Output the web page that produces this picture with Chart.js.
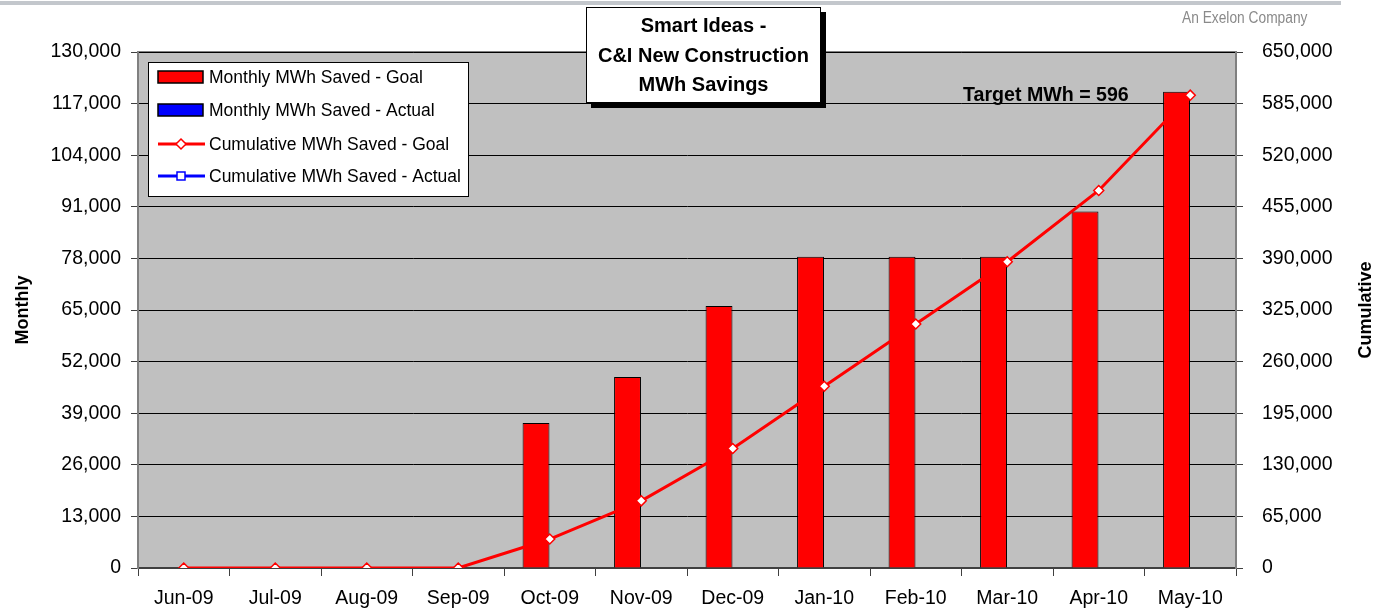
<!DOCTYPE html>
<html>
<head>
<meta charset="utf-8">
<script src="https://cdn.jsdelivr.net/npm/chart.js@4/dist/chart.umd.min.js"></script>
<style>
  html, body { margin: 0; padding: 0; background: #fff; }
  #wrap { position: relative; width: 1387px; height: 609px; overflow: hidden; font-family: "Liberation Sans", Arial, sans-serif; }
  #topline { position: absolute; left: 0; top: 1px; width: 1341px; height: 4px; background: #c3c7cc; }
  #brand { position: absolute; left: 1182px; top: 9px; font-size: 16px; color: #8a8a8a; transform: scaleX(0.86); transform-origin: left top; white-space: nowrap; }
  #titleBox { position: absolute; left: 586px; top: 7px; width: 235px; height: 96px; background: #fff; border: 1px solid #000; box-shadow: 5px 5px 0 #000; text-align: center; font-weight: bold; font-size: 20px; line-height: 29.5px; padding-top: 3px; box-sizing: border-box; white-space: nowrap; }
  #target { position: absolute; left: 963px; top: 83px; font-weight: bold; font-size: 20px; transform: scaleX(0.98); transform-origin: left top; white-space: nowrap; }
  canvas { position: absolute; left: 0; top: 0; }
</style>
</head>
<body>
<div id="wrap">
  <div id="topline"></div>
  <canvas id="chart" width="1387" height="609"></canvas>
  <div id="titleBox">Smart Ideas -<br>C&amp;I New Construction<br>MWh Savings</div>
  <div id="target">Target MWh = 596</div>
  <div id="brand">An Exelon Company</div>
</div>
<script>
/* =======================
   DATA
======================= */
const months = ["Jun-09", "Jul-09", "Aug-09", "Sep-09", "Oct-09", "Nov-09",
                "Dec-09", "Jan-10", "Feb-10", "Mar-10", "Apr-10", "May-10"];
const monthlyGoal = [0, 0, 0, 0, 36500, 48100, 66000, 78400, 78400, 78400, 89800, 120000];
const monthlyActual = [null, null, null, null, null, null, null, null, null, null, null, null];
const cumulativeGoal = [0, 0, 0, 0, 36500, 84600, 150600, 229000, 307400, 385800, 475600, 595600];
const cumulativeActual = [null, null, null, null, null, null, null, null, null, null, null, null];
const seriesNames = ["Monthly MWh Saved - Goal", "Monthly MWh Saved - Actual",
                     "Cumulative MWh Saved - Goal", "Cumulative MWh Saved - Actual"];

const FONT = "'Liberation Sans', Arial, sans-serif";

/* =======================
   PLUGINS
======================= */
// grey plot background + frame
const plotBg = {
  id: "plotBg",
  beforeDraw(chart) {
    const { ctx, chartArea: a } = chart;
    ctx.save();
    ctx.fillStyle = "#c0c0c0";
    ctx.fillRect(a.left, a.top, a.right - a.left, a.bottom - a.top);
    ctx.strokeStyle = "#808080";
    ctx.lineWidth = 2;
    ctx.beginPath();
    ctx.moveTo(a.left, a.top);
    ctx.lineTo(a.right, a.top);
    ctx.lineTo(a.right, a.bottom);
    ctx.stroke();
    ctx.restore();
  }
};

// legend box inside plot area + right axis title
const boxLegend = {
  id: "boxLegend",
  afterDraw(chart) {
    const ctx = chart.ctx;
    const x = 148, y = 62, w = 320, h = 134;
    ctx.save();
    ctx.fillStyle = "#fff";
    ctx.fillRect(x, y, w, h);
    ctx.strokeStyle = "#000";
    ctx.lineWidth = 1;
    ctx.strokeRect(x + 0.5, y + 0.5, w, h);
    ctx.font = "17.5px " + FONT;
    ctx.textBaseline = "middle";
    const rows = [77, 110, 144, 176];
    chart.data.datasets.forEach((ds, i) => {
      const ry = rows[i];
      if (ds.type === "bar") {
        ctx.fillStyle = ds.backgroundColor;
        ctx.fillRect(158, ry - 6, 45, 12);
        ctx.strokeStyle = "#000";
        ctx.lineWidth = 1.5;
        ctx.strokeRect(158, ry - 6, 45, 12);
      } else {
        ctx.strokeStyle = ds.borderColor;
        ctx.lineWidth = 3;
        ctx.beginPath();
        ctx.moveTo(158, ry);
        ctx.lineTo(205, ry);
        ctx.stroke();
        ctx.fillStyle = "#fff";
        ctx.lineWidth = 1.5;
        ctx.beginPath();
        if (ds.pointStyle === "rectRot") {
          ctx.moveTo(181, ry - 5); ctx.lineTo(186, ry); ctx.lineTo(181, ry + 5); ctx.lineTo(176, ry);
          ctx.closePath();
        } else {
          ctx.rect(177, ry - 4, 8, 8);
        }
        ctx.fill();
        ctx.stroke();
      }
      ctx.fillStyle = "#000";
      ctx.fillText(ds.label, 209, ry + 1);
    });

    // "Cumulative" reads bottom-to-top like the left title
    ctx.translate(1366, 310);
    ctx.rotate(-Math.PI / 2);
    ctx.font = "bold 18px " + FONT;
    ctx.textAlign = "center";
    ctx.fillText("Cumulative", 0, 0);
    ctx.restore();
  }
};

/* =======================
   CHART
======================= */
new Chart(document.getElementById("chart"), {
  data: {
    labels: months,
    datasets: [
      { type: "bar", label: seriesNames[0], data: monthlyGoal, yAxisID: "y",
        backgroundColor: "#ff0000", borderColor: "#000", borderWidth: 1,
        categoryPercentage: 0.6, barPercentage: 0.98, order: 2 },
      { type: "bar", label: seriesNames[1], data: monthlyActual, yAxisID: "y",
        backgroundColor: "#0000ff", borderColor: "#000", borderWidth: 1,
        categoryPercentage: 0.6, barPercentage: 0.98, order: 2 },
      { type: "line", label: seriesNames[2], data: cumulativeGoal, yAxisID: "y2",
        borderColor: "#ff0000", borderWidth: 3, pointStyle: "rectRot", pointRadius: 5,
        pointBackgroundColor: "#fff", pointBorderColor: "#ff0000", pointBorderWidth: 1.5,
        tension: 0, order: 0 },
      { type: "line", label: seriesNames[3], data: cumulativeActual, yAxisID: "y2",
        borderColor: "#0000ff", borderWidth: 3, pointStyle: "rect", pointRadius: 4,
        pointBackgroundColor: "#fff", pointBorderColor: "#0000ff", pointBorderWidth: 1.5,
        order: 1 }
    ]
  },
  options: {
    responsive: false,
    animation: false,
    layout: { padding: { top: 52, left: 0, right: 0, bottom: 0 } },
    plugins: { legend: { display: false }, tooltip: { enabled: false } },
    scales: {
      x: {
        offset: true,
        grid: { offset: true, drawOnChartArea: false, tickLength: 8, color: "#404040", lineWidth: 1 },
        border: { color: "#404040", width: 2 },
        ticks: { color: "#000", font: { size: 19.5, family: FONT }, padding: 11, maxRotation: 0, autoSkip: false },
        afterFit(s) { s.height = 41; }
      },
      y: {
        position: "left",
        min: 0, max: 130000,
        ticks: { stepSize: 13000, color: "#000", font: { size: 19.5, family: FONT }, padding: 10,
                 callback: v => v.toLocaleString("en-US") },
        grid: { color: "#000", lineWidth: 1, tickLength: 7, tickColor: "#404040" },
        border: { color: "#808080", width: 2 },
        title: { display: true, text: "Monthly", color: "#000",
                 font: { size: 18, weight: "bold", family: FONT }, padding: { top: 12, bottom: 0 } },
        afterFit(s) { s.width = 138; }
      },
      y2: {
        position: "right",
        min: 0, max: 650000,
        ticks: { stepSize: 65000, color: "#000", font: { size: 19.5, family: FONT }, padding: 19,
                 callback: v => v.toLocaleString("en-US") },
        grid: { drawOnChartArea: false, tickLength: 7, tickColor: "#404040" },
        border: { color: "#808080", width: 2 },
        afterFit(s) { s.width = 151; }
      }
    }
  },
  plugins: [plotBg, boxLegend]
});
</script>
</body>
</html>
